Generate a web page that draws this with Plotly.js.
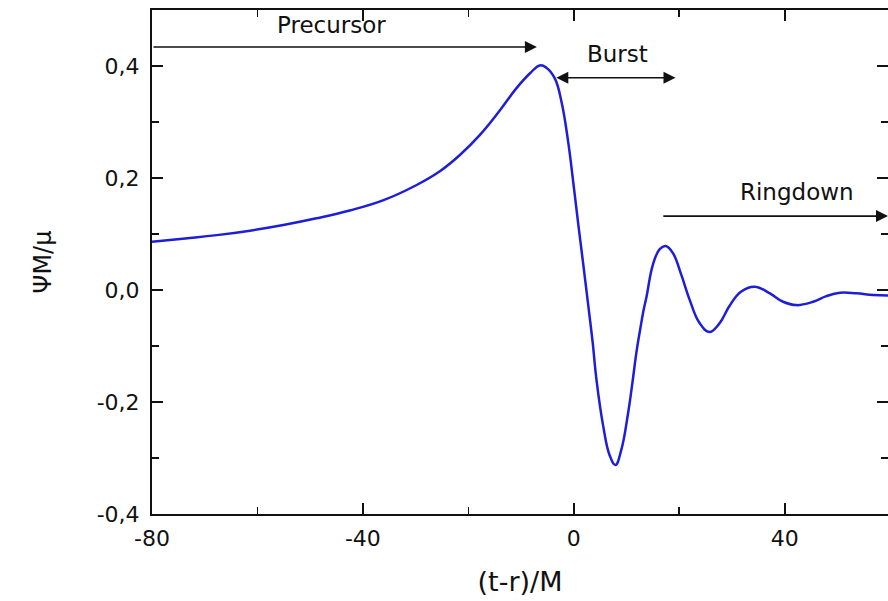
<!DOCTYPE html>
<html><head><meta charset="utf-8">
<script src="https://cdn.plot.ly/plotly-3.0.1.min.js"></script>
<style>html,body{margin:0;padding:0;background:#fff}#chart{width:888px;height:601px}</style>
</head><body><div id="chart"></div>
<script>
const timeValues = [-80, -73.7, -67.7, -61.4, -55.1, -48.8, -42.5, -36.2, -29.8, -25.4, -21.6, -17.8, -14.0, -10.9, -8.3, -6.45, -5.2, -3.6, -2.33, -1.07, -0.13, 0.82, 1.77, 2.7, 3.6, 4.3, 5.6, 6.8, 7.9, 9.0, 10.3, 11.2, 11.9, 12.6, 13.2, 13.8, 15.0, 16.3, 17.45, 18.8, 20.4, 22.0, 23.8, 25.7, 27.6, 29.5, 31.7, 34.3, 37.2, 39.7, 42.2, 45.4, 47.9, 50.5, 53.6, 56.8, 59.6];
const psiValues = [0.086, 0.092, 0.098, 0.106, 0.116, 0.128, 0.142, 0.160, 0.1875, 0.212, 0.241, 0.277, 0.321, 0.360, 0.387, 0.401, 0.397, 0.378, 0.336, 0.265, 0.195, 0.120, 0.048, -0.024, -0.095, -0.160, -0.244, -0.295, -0.3125, -0.286, -0.220, -0.160, -0.110, -0.070, -0.038, -0.012, 0.045, 0.073, 0.0786, 0.066, 0.027, -0.018, -0.058, -0.075, -0.060, -0.029, -0.003, 0.006, -0.006, -0.021, -0.027, -0.021, -0.011, -0.005, -0.006, -0.009, -0.010];

const xTickVals = [-80, -40, 0, 40];
const xTickText = ['-80', '-40', '0', '40'];
const xMinorVals = [-60, -20, 20];
const yTickVals = [-0.4, -0.2, 0, 0.2, 0.4];
const yTickText = ['-0,4', '-0,2', '0,0', '0,2', '0,4'];
const yMinorVals = [-0.3, -0.1, 0.1, 0.3];

const phaseLabels = ['Precursor', 'Burst', 'Ringdown'];
const phaseLabelX = [-45.9, 8.2, 42.3];
const phaseLabelY = [0.473, 0.421, 0.175];
const arrowStart = [-80, -3.6, 16.7];
const arrowEnd = [-7.0, 19.3, 59.6];
const arrowY = [0.434, 0.379, 0.132];
const arrowBoth = [false, true, false];

const FONT = 'DejaVu Sans, Arial, sans-serif';

const annotations = [];
phaseLabels.forEach((t, i) => {
  annotations.push({
    x: phaseLabelX[i], y: phaseLabelY[i], xref: 'x', yref: 'y',
    text: t, showarrow: false,
    font: {family: FONT, size: 23, color: '#111'}
  });
  annotations.push({
    x: arrowEnd[i], y: arrowY[i], ax: arrowStart[i], ay: arrowY[i],
    xref: 'x', yref: 'y', axref: 'x', ayref: 'y',
    text: '', showarrow: true,
    arrowhead: 2, arrowsize: 1.5, arrowwidth: 1.6, arrowcolor: '#111',
    arrowside: arrowBoth[i] ? 'end+start' : 'end',
    standoff: 0, startstandoff: 0
  });
});

const trace = {
  x: timeValues, y: psiValues, type: 'scatter', mode: 'lines',
  line: {color: '#1e1ed8', width: 2.5, shape: 'spline', smoothing: 1.2},
  hoverinfo: 'skip', showlegend: false, cliponaxis: true
};

const axisCommon = {
  showgrid: false, zeroline: false, showline: true, linecolor: '#111', linewidth: 2,
  mirror: 'ticks', ticks: 'inside', ticklen: 11, tickwidth: 1.8, tickcolor: '#111',
  tickfont: {family: FONT, size: 22, color: '#111'}
};

const layout = {
  width: 888, height: 601,
  margin: {l: 152, r: 0, t: 10, b: 87, pad: 0},
  paper_bgcolor: '#fff', plot_bgcolor: '#fff',
  xaxis: Object.assign({}, axisCommon, {
    range: [-80, 59.6], tickmode: 'array', tickvals: xTickVals, ticktext: xTickText,
    minor: {tickmode: 'array', tickvals: xMinorVals, ticks: 'inside', ticklen: 7, tickwidth: 1.5, tickcolor: '#111', showgrid: false},
    ticklabelstandoff: 4,
    title: {text: '(t-r)/M', font: {family: FONT, size: 27, color: '#111'}, standoff: 22}
  }),
  yaxis: Object.assign({}, axisCommon, {
    range: [-0.4, 0.5], tickmode: 'array', tickvals: yTickVals, ticktext: yTickText,
    minor: {tickmode: 'array', tickvals: yMinorVals, ticks: 'inside', ticklen: 7, tickwidth: 1.5, tickcolor: '#111', showgrid: false},
    ticklabelstandoff: 6,
    title: {text: 'ΨM/μ', font: {family: FONT, size: 24, color: '#111'}, standoff: 38}
  }),
  annotations: annotations
};

Plotly.newPlot('chart', [trace], layout, {displayModeBar: false, staticPlot: true});
</script>
</body></html>
